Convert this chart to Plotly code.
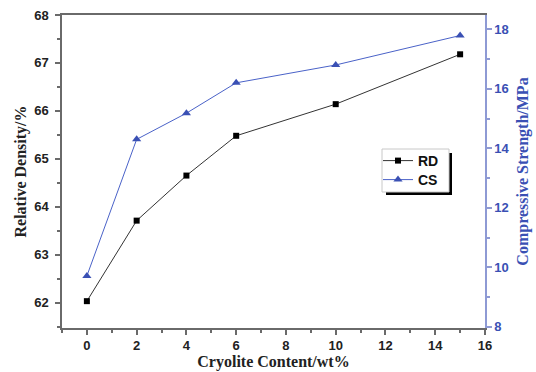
import plotly.graph_objects as go

content = [0, 2, 4, 6, 10, 15]
rd = [62.03, 63.71, 64.65, 65.48, 66.14, 67.18]
cs = [9.71, 14.30, 15.18, 16.20, 16.80, 17.79]

blue = "#3a50b4"
blue_axis = "#8e9ad4"
grey = "#6a6a6a"

L, R, T, B = 62, 485, 15, 328
PW, PH = R - L, B - T


def px(x):
    return (x - L) / PW


def py(y):
    return (B - y) / PH


fig = go.Figure()
fig.add_trace(go.Scatter(x=content, y=rd, name="RD", mode="lines+markers",
                         line=dict(color="#333333", width=1),
                         marker=dict(symbol="square", size=6, color="black"),
                         legend="legend"))
fig.add_trace(go.Scatter(x=content, y=cs, name="CS", mode="lines+markers", yaxis="y2",
                         line=dict(color="#4a62c8", width=1),
                         marker=dict(symbol="triangle-up", size=8, color=blue),
                         legend="legend2"))

tickfont = dict(family="Liberation Sans", size=13, color="#222222", weight="bold")
titlefont = dict(family="Liberation Serif", size=16, color="#222222", weight="bold")
legfont = dict(family="Liberation Sans", size=14, color="#111111", weight="bold")

# legend shadow and box (paper coords)
fig.add_shape(type="rect", xref="paper", yref="paper",
              x0=px(386), x1=px(452), y0=py(195), y1=py(153),
              fillcolor="black", line=dict(width=0), layer="above")
fig.add_shape(type="rect", xref="paper", yref="paper",
              x0=px(382), x1=px(449), y0=py(192), y1=py(149),
              fillcolor="white", line=dict(width=1, color="#c8c8c8"), layer="above")

fig.update_layout(
    width=536, height=372,
    margin=dict(l=L, r=536 - R, t=T, b=372 - B),
    paper_bgcolor="white", plot_bgcolor="white",
    showlegend=True,
    legend=dict(x=px(378), y=py(161), xanchor="left", yanchor="middle",
                bgcolor="rgba(0,0,0,0)", borderwidth=0, font=legfont, itemwidth=30),
    legend2=dict(x=px(378), y=py(180), xanchor="left", yanchor="middle",
                 bgcolor="rgba(0,0,0,0)", borderwidth=0, font=legfont, itemwidth=30),
    xaxis=dict(range=[-1, 16], dtick=2, tick0=0, showgrid=False, zeroline=False,
               showline=True, linecolor=grey, linewidth=1.5, mirror=True,
               ticks="outside", ticklen=5, tickcolor=grey, tickwidth=1.5,
               minor=dict(ticks="outside", dtick=1, ticklen=3, tickcolor=grey),
               tickfont=tickfont, ticklabelstandoff=0, automargin=False,
               title=dict(text="Cryolite Content/wt%", font=titlefont, standoff=2)),
    yaxis=dict(range=[61.47, 68], dtick=1, tick0=62, showgrid=False, zeroline=False,
               showline=True, linecolor=grey, linewidth=1.5,
               ticks="outside", ticklen=5, tickcolor=grey, tickwidth=1.5,
               minor=dict(ticks="outside", dtick=0.5, ticklen=3, tickcolor=grey),
               tickfont=tickfont, ticklabelstandoff=4, automargin=False,
               title=dict(text="Relative Density/%", font=titlefont, standoff=4)),
    yaxis2=dict(range=[7.96, 18.48], dtick=2, tick0=8, overlaying="y", side="right",
                showgrid=False, zeroline=False, automargin=False,
                showline=True, linecolor=blue_axis, linewidth=1.5,
                ticks="outside", ticklen=5, tickcolor=blue_axis, tickwidth=1.5,
                minor=dict(ticks="outside", dtick=1, ticklen=3, tickcolor=blue_axis),
                tickfont=dict(family="Liberation Sans", size=13, color=blue, weight="bold"),
                title=dict(text="Compressive Strength/MPa",
                           font=dict(family="Liberation Serif", size=16, color=blue, weight="bold"),
                           standoff=8)),
)

fig.write_html("out.html")
